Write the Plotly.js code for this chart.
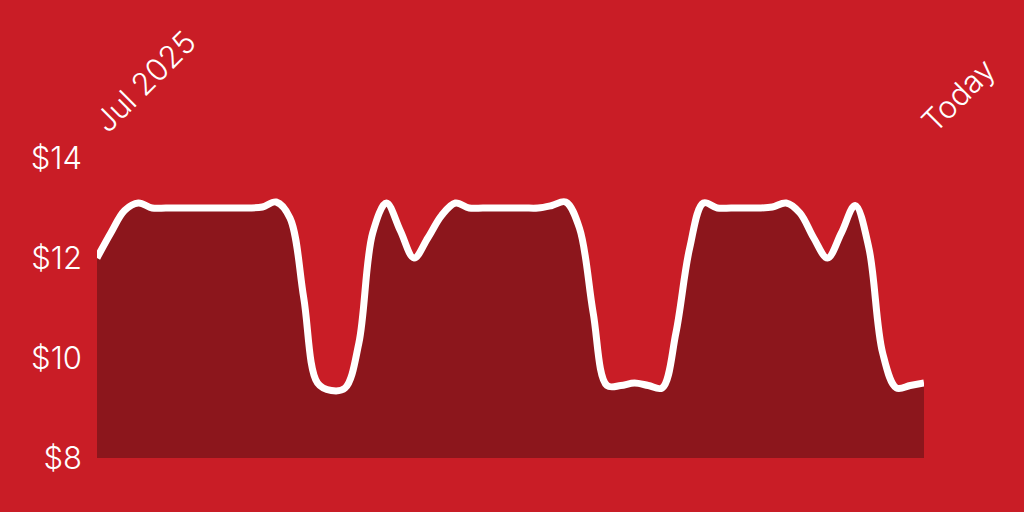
<!DOCTYPE html>
<html>
<head>
<meta charset="utf-8">
<script src="https://cdn.plot.ly/plotly-3.0.1.min.js"></script>
<style>html,body{margin:0;padding:0;background:#C91D26;}#chart{width:1024px;height:512px;}</style>
</head>
<body>
<div id="chart"></div>
<script>
const weekIndex = [0,1,2,3,4,5,6,7,8,9,10,11,12,13,14,15,16,17,18,19,20,21,22,23,24,25,26,27,28,29,30,31,32,33,34,35,36,37,38,39,40,41,42,43,44,45,46,47,48,49,50,51,52,53,54,55,56,57,58,59,60];
const prices = [12.0,12.5,12.95,13.1,13.0,13.0,13.0,13.0,13.0,13.0,13.0,13.0,13.02,13.12,12.8,11.2,9.5,9.35,9.4,10.3,12.5,13.1,12.55,12.0,12.4,12.85,13.1,13.0,13.0,13.0,13.0,13.0,13.0,13.05,13.12,12.6,10.9,9.45,9.45,9.5,9.45,9.4,10.5,12.2,13.1,13.0,13.0,13.0,13.0,13.02,13.1,12.9,12.4,12.0,12.5,13.05,12.2,10.1,9.4,9.45,9.5];
const tickPositions = [0, 60];
const tickLabels = ["Jul 2025", "Today"];
const yTicks = [8, 10, 12, 14];
const yTickLabels = ["$8", "$10", "$12", "$14"];

const trace = {
  x: weekIndex,
  y: prices,
  type: 'scatter',
  mode: 'lines',
  line: {color: '#FFFFFF', width: 7, shape: 'spline', smoothing: 1},
  fill: 'tozeroy',
  fillcolor: '#8C161C',
  hoverinfo: 'skip'
};

const layout = {
  width: 1024,
  height: 512,
  paper_bgcolor: '#C91D26',
  plot_bgcolor: '#C91D26',
  margin: {l: 97, r: 100, t: 158, b: 54},
  showlegend: false,
  font: {family: 'Inter, Roboto, sans-serif', color: '#FFFFFF', size: 31, weight: 300},
  xaxis: {
    side: 'top',
    range: [0, 60],
    tickvals: tickPositions,
    ticktext: tickLabels,
    tickangle: -45,
    showgrid: false,
    zeroline: false,
    showline: false,
    ticks: '',
    ticklabelstandoff: 12,
    tickfont: {size: 31, color: '#FFFFFF', weight: 300}
  },
  yaxis: {
    range: [8, 14],
    tickvals: yTicks,
    ticktext: yTickLabels,
    showgrid: false,
    zeroline: false,
    showline: false,
    ticks: '',
    ticklabelstandoff: 14,
    tickfont: {size: 31, color: '#FFFFFF', weight: 300}
  }
};

Plotly.newPlot('chart', [trace], layout, {staticPlot: true, displayModeBar: false});
</script>
</body>
</html>
